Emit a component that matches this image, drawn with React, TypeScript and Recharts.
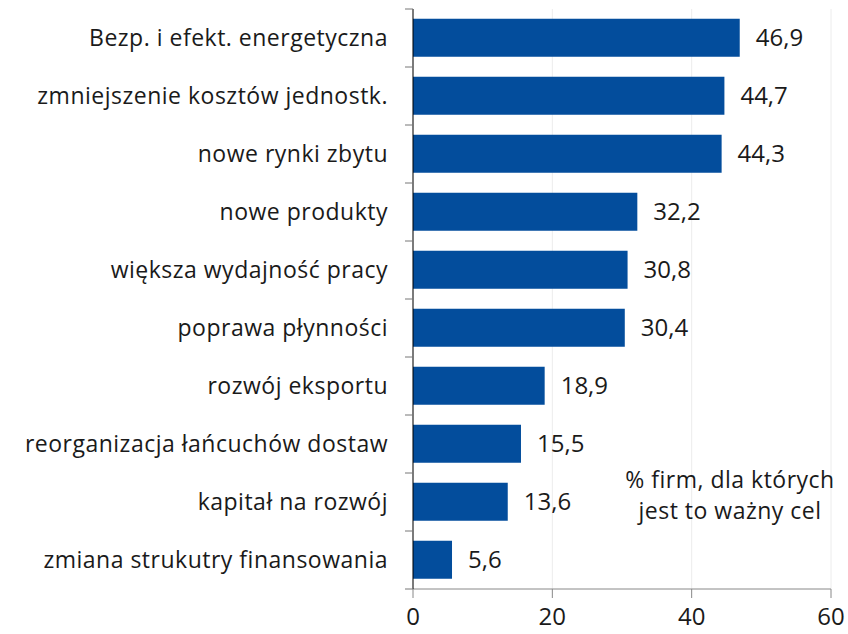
import React from 'react';
import { BarChart, Bar, XAxis, YAxis, CartesianGrid, LabelList } from 'recharts';

const categories = [
  'Bezp. i efekt. energetyczna',
  'zmniejszenie kosztów jednostk.',
  'nowe rynki zbytu',
  'nowe produkty',
  'większa wydajność pracy',
  'poprawa płynności',
  'rozwój eksportu',
  'reorganizacja łańcuchów dostaw',
  'kapitał na rozwój',
  'zmiana strukutry finansowania',
];
const shares = [46.9, 44.7, 44.3, 32.2, 30.8, 30.4, 18.9, 15.5, 13.6, 5.6];
const xTicks = [0, 20, 40, 60];
const noteLines = ['% firm, dla których', 'jest to ważny cel'];

const data = categories.map((name, i) => ({ name, value: shares[i] }));

const FONT = '"Open Sans", "Noto Sans", sans-serif';
const TOP = 9;
const BOTTOM_AXIS = 45;
const HEIGHT = 634;
const BAND = (HEIGHT - TOP - BOTTOM_AXIS) / categories.length;

const CategoryTick = (props: any) => {
  const { x, y, payload, index } = props;
  return (
    <g>
      <line x1={x - 8} x2={x} y1={y - BAND / 2} y2={y - BAND / 2} stroke="#777" strokeWidth={1} />
      {index === categories.length - 1 && (
        <line x1={x - 8} x2={x} y1={y + BAND / 2} y2={y + BAND / 2} stroke="#777" strokeWidth={1} />
      )}
      <text
        x={x - 25}
        y={y}
        dy="0.35em"
        textAnchor="end"
        fontSize={23}
        letterSpacing={0.5}
        fill="#1a1a1a"
        fontFamily={FONT}
      >
        {payload.value}
      </text>
    </g>
  );
};

const fmt = (v: any) => Number(v).toFixed(1).replace('.', ',');

export default function App() {
  return (
    <div style={{ position: 'absolute', left: 0, top: 0, width: 848, height: HEIGHT, background: '#fff' }}>
      <BarChart
        width={848}
        height={HEIGHT}
        data={data}
        layout="vertical"
        margin={{ top: TOP, right: 17, bottom: 0, left: 0 }}
        barCategoryGap="17%"
      >
        <CartesianGrid horizontal={false} stroke="#ececec" />
        <XAxis
          type="number"
          domain={[0, 60]}
          ticks={xTicks}
          height={BOTTOM_AXIS}
          tickSize={9}
          tickMargin={10}
          stroke="#888"
          tick={{ fontSize: 24, fill: '#1a1a1a', fontFamily: FONT }}
        />
        <YAxis
          type="category"
          dataKey="name"
          width={413}
          tickSize={0}
          tickMargin={0}
          stroke="#000"
          tick={<CategoryTick />}
          interval={0}
        />
        <Bar dataKey="value" fill="#034d9c" isAnimationActive={false}>
          <LabelList
            dataKey="value"
            position="right"
            offset={16}
            formatter={fmt}
            style={{ fontSize: 24, fill: '#1a1a1a', fontFamily: FONT }}
          />
        </Bar>
      </BarChart>
      <div
        style={{
          position: 'absolute',
          left: 600,
          top: 464,
          width: 260,
          textAlign: 'center',
          fontFamily: FONT,
          fontSize: 23,
          letterSpacing: 0.5,
          lineHeight: '31px',
          color: '#1a1a1a',
        }}
      >
        {noteLines.map((l) => (
          <div key={l}>{l}</div>
        ))}
      </div>
    </div>
  );
}
